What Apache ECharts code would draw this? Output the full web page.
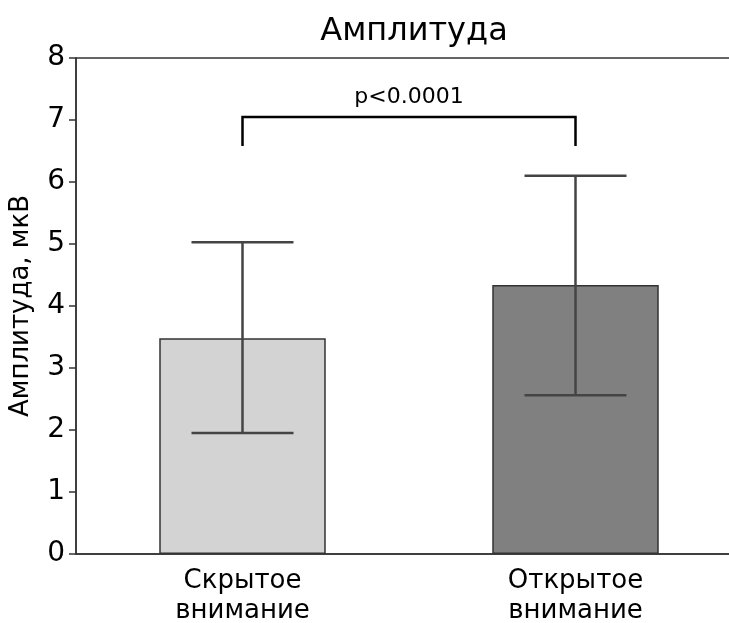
<!DOCTYPE html>
<html><head><meta charset="utf-8">
<script src="https://cdn.jsdelivr.net/npm/echarts@6/dist/echarts.min.js"></script>
<style>html,body{margin:0;padding:0;background:#fff}#c{width:729px;height:623px}</style>
</head><body><div id="c"></div>
<script>
var categories = ['Скрытое\nвнимание', 'Открытое\nвнимание'];
var means = [3.48, 4.34];
var errLow = [1.95, 2.56];
var errHigh = [5.03, 6.10];
var barColors = ['#d3d3d3', '#808080'];
var bracketTop = 7.05;
var bracketBottom = 6.58;
var pText = 'p<0.0001';
var yTicks = [0, 1, 2, 3, 4, 5, 6, 7, 8];

var FONT = '"DejaVu Sans"';
var chart = echarts.init(document.getElementById('c'), null, {renderer: 'canvas'});
chart.setOption({
  animation: false,
  backgroundColor: '#fff',
  title: {
    text: 'Амплитуда', left: 409, top: 11, textAlign: 'center',
    textStyle: {fontFamily: FONT, fontSize: 32, fontWeight: 'normal', color: '#000'}
  },
  grid: {left: 76, right: -13, top: 58, bottom: 69, show: true, borderColor: '#333', borderWidth: 1.5, containLabel: false, outerBoundsMode: 'none'},
  xAxis: {
    type: 'category', data: categories, boundaryGap: true,
    axisLine: {lineStyle: {color: '#333', width: 1.5}},
    axisTick: {alignWithLabel: true, length: 7, lineStyle: {color: '#333', width: 1.5}},
    axisLabel: {fontFamily: FONT, fontSize: 26, color: '#000', lineHeight: 30, margin: 12}
  },
  yAxis: {
    type: 'value', min: yTicks[0], max: yTicks[yTicks.length - 1], interval: 1,
    name: 'Амплитуда, мкВ', nameLocation: 'middle', nameRotate: 90, nameGap: 42,
    nameTextStyle: {fontFamily: FONT, fontSize: 26, color: '#000'},
    splitLine: {show: false},
    axisLine: {show: true, lineStyle: {color: '#333', width: 1.5}},
    axisTick: {show: true, length: 7, lineStyle: {color: '#333', width: 1.5}},
    axisLabel: {fontFamily: FONT, fontSize: 28, color: '#000', margin: 11}
  },
  series: [
    {
      type: 'bar', barWidth: '50%',
      data: means.map(function (v, i) {
        return {value: v, itemStyle: {color: barColors[i], borderColor: '#333', borderWidth: 1.5}};
      }),
      z: 2
    },
    {
      type: 'custom', z: 5,
      data: means.map(function (v, i) { return [i, errLow[i], errHigh[i]]; }),
      renderItem: function (params, api) {
        var lo = api.coord([api.value(0), api.value(1)]);
        var hi = api.coord([api.value(0), api.value(2)]);
        var hw = 51;
        var st = {stroke: '#444', lineWidth: 2.5};
        return {type: 'group', children: [
          {type: 'line', shape: {x1: lo[0], y1: lo[1], x2: hi[0], y2: hi[1]}, style: st},
          {type: 'line', shape: {x1: lo[0] - hw, y1: lo[1], x2: lo[0] + hw, y2: lo[1]}, style: st},
          {type: 'line', shape: {x1: hi[0] - hw, y1: hi[1], x2: hi[0] + hw, y2: hi[1]}, style: st}
        ]};
      }
    },
    {
      type: 'custom', z: 6,
      data: [[0, 1, bracketTop, bracketBottom]],
      renderItem: function (params, api) {
        var a = api.coord([api.value(0), api.value(2)]);
        var b = api.coord([api.value(1), api.value(2)]);
        var a2 = api.coord([api.value(0), api.value(3)]);
        var b2 = api.coord([api.value(1), api.value(3)]);
        return {type: 'group', children: [
          {type: 'polyline', shape: {points: [[a2[0], a2[1]], [a[0], a[1]], [b[0], b[1]], [b2[0], b2[1]]]},
           style: {stroke: '#000', lineWidth: 2.5, fill: null}},
          {type: 'text', style: {text: pText, x: (a[0] + b[0]) / 2, y: a[1] - 9, align: 'center', verticalAlign: 'bottom',
            font: '22px ' + FONT, fill: '#000'}}
        ]};
      }
    }
  ]
});
</script></body></html>
